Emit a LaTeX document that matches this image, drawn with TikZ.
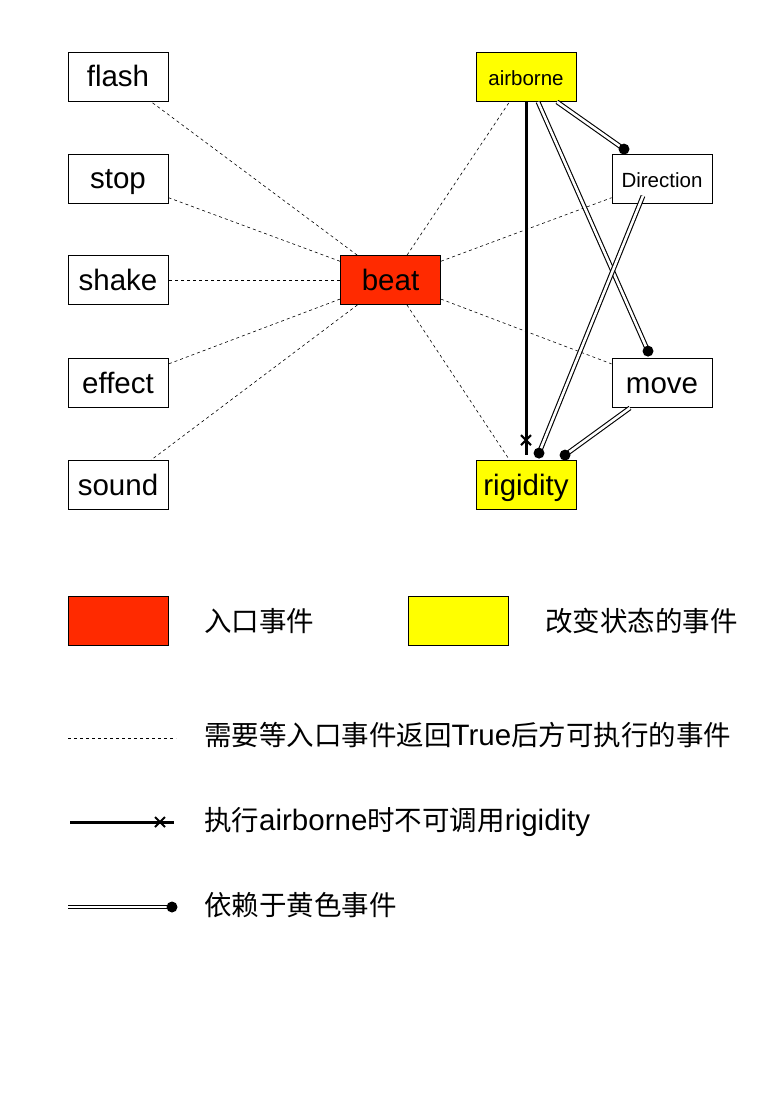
\documentclass[tikz,border=0pt]{standalone}
\usepackage{fontspec}
\setmainfont{Liberation Sans}
\newfontfamily\cjkfam{Noto Sans CJK SC}
\newcommand{\cj}[1]{{\cjkfam\fontsize{27.5}{32}\selectfont #1}}
\usetikzlibrary{calc}
\definecolor{entryred}{HTML}{FF2A00}
\definecolor{stateyellow}{HTML}{FFFF00}
\tikzset{
  box/.style={draw, line width=0.8pt, fill=white, minimum width=100pt, minimum height=49pt, inner sep=0pt, text height=24pt, text depth=4pt, font=\fontsize{29.5}{34}\selectfont},
  smallbox/.style={box, text height=21pt, font=\fontsize{20.5}{24}\selectfont},
  waitline/.style={line width=0.6pt, dash pattern=on 3pt off 3pt},
  forbid/.style={line width=3pt},
  depend/.style={line width=1.1pt, double=white, double distance=2.6pt},
  dot/.style={fill=black},
  legtext/.style={anchor=base west, inner sep=0pt, font=\fontsize{29.5}{34}\selectfont}
}
\begin{document}
\begin{tikzpicture}[x=1pt,y=-1pt]
\useasboundingbox (0,0) rectangle (782,1118);
% nodes
\node[box] (flash) at (118,77) {flash};
\node[box] (stop) at (118,179) {stop};
\node[box] (shake) at (118,280) {shake};
\node[box] (effect) at (118,383) {effect};
\node[box] (sound) at (118,485) {sound};
\node[box, fill=entryred] (beat) at (390.5,280) {beat};
\node[smallbox, fill=stateyellow] (air) at (526,77) {airborne};
\node[smallbox] (dir) at (662,179) {Direction};
\node[box] (move) at (662,383) {move};
\node[box, fill=stateyellow] (rig) at (526,485) {rigidity};
% dashed links
\foreach \n in {flash,stop,shake,effect,sound,air,dir,move,rig}
  \draw[waitline] (beat) -- (\n);
% forbid line
\coordinate (thickend) at ([yshift=5pt]rig.north);
\draw[forbid] (air.south) -- (thickend);
\coordinate (crs) at ([yshift=20pt]rig.north);
\draw[line width=2pt] ([xshift=-5pt,yshift=-5pt]crs) -- ([xshift=5pt,yshift=5pt]crs)
  ([xshift=-5pt,yshift=5pt]crs) -- ([xshift=5pt,yshift=-5pt]crs);
% dependency lines
\coordinate (e1) at ([xshift=-38pt,yshift=5pt]dir.north);
\coordinate (e2) at ([xshift=-14pt,yshift=7pt]move.north);
\coordinate (e3) at ([xshift=13pt,yshift=7pt]rig.north);
\coordinate (e4) at ([xshift=39pt,yshift=5pt]rig.north);
\draw[depend] ([xshift=31pt]air.south) -- (e1);
\draw[depend] ([xshift=12pt]air.south) -- (e2);
\draw[depend] ([xshift=-19pt,yshift=8pt]dir.south) -- (e3);
\draw[depend] ([xshift=-32pt]move.south) -- (e4);
\foreach \e in {e1,e2,e3,e4} \fill[dot] (\e) circle (5.5pt);
% legend
\node[box, fill=entryred] (lr) at (118,620.5) {};
\node[legtext] (lrt) at (204,631) {\cj{入口事件}};
\node[box, fill=stateyellow] (ly) at (458,620.5) {};
\node[legtext] (lyt) at (545,631) {\cj{改变状态的事件}};
\coordinate (la1) at (68,738);
\coordinate (la2) at (176,738);
\draw[waitline] (la1) -- (la2);
\node[legtext] (lat) at (204,745) {\cj{需要等入口事件返回}True\cj{后方可执行的事件}};
\coordinate (lb1) at (70,822);
\coordinate (lb2) at (174,822);
\coordinate (lbx) at (160,822);
\draw[forbid] (lb1) -- (lb2);
\draw[line width=2pt] ([xshift=-5pt,yshift=-5pt]lbx) -- ([xshift=5pt,yshift=5pt]lbx)
  ([xshift=-5pt,yshift=5pt]lbx) -- ([xshift=5pt,yshift=-5pt]lbx);
\node[legtext] (lbt) at (204,830) {\cj{执行}airborne\cj{时不可调用}rigidity};
\coordinate (lc1) at (68,907);
\coordinate (lc2) at (172,907);
\draw[depend] (lc1) -- (lc2);
\fill[dot] (lc2) circle (5.5pt);
\node[legtext] (lct) at (204,915) {\cj{依赖于黄色事件}};
\end{tikzpicture}
\end{document}
